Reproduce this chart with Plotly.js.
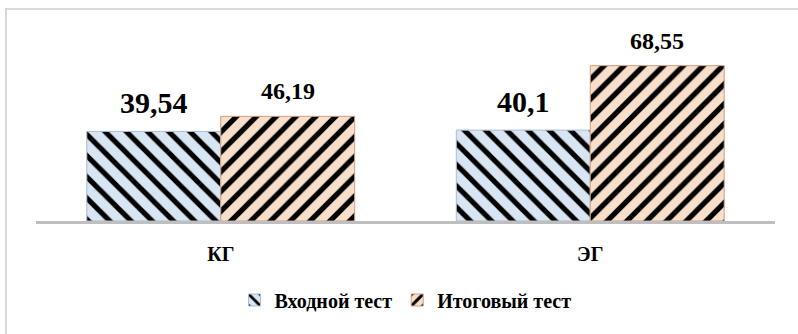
<!DOCTYPE html>
<html>
<head>
<meta charset="utf-8">
<script src="https://cdn.plot.ly/plotly-3.0.1.min.js"></script>
<style>
  html, body { margin: 0; padding: 0; background: #fff; }
  #wrap { position: relative; width: 798px; height: 334px; overflow: hidden; }
  #frame { position: absolute; left: 5px; top: 8px; width: 820px; height: 340px;
           border-left: 2px solid #d9d9d9; border-top: 2px solid #d9d9d9; pointer-events: none; }
  #chart { position: absolute; left: 0; top: 0; width: 798px; height: 334px; }
  #o { position: absolute; left: 10px; top: 10px; font: 10px monospace; white-space: pre-wrap; width: 780px; color: transparent; margin: 0; }
</style>
</head>
<body>
<div id="wrap">
  <div id="chart"></div>
  <div id="frame"></div>
  <pre id="o"></pre>
</div>
<script>
// ---- data ----
const categories = ['КГ', 'ЭГ'];
const seriesNames = ['Входной тест', 'Итоговый тест'];
const inputTest = [39.54, 40.1];
const finalTest = [46.19, 68.55];

// ---- styling ----
const W = 798, H = 334;
const margin = { l: 36, r: 23, t: 20, b: 113 };
const bargap = 0.275;
const serif = 'Liberation Serif';

const fmt = v => String(v).replace('.', ',');

const seriesValues = [inputTest, finalTest];
const styles = [
  { bg: '#d8e6f3', line: '#a9bdd3', shape: '\\', size: 15, sol: 0.35, label: 30 },
  { bg: '#f7dfcb', line: '#cf9f7f', shape: '/', size: 14, sol: 0.38, label: 24 }
];

const traces = seriesValues.map((vals, i) => ({
  type: 'bar',
  name: seriesNames[i],
  x: categories,
  y: vals,
  marker: {
    color: styles[i].bg,
    line: { color: styles[i].line, width: 1 },
    pattern: { shape: styles[i].shape, fgcolor: '#000000', fgopacity: 1, bgcolor: styles[i].bg,
               size: styles[i].size, solidity: styles[i].sol, fillmode: 'replace' }
  },
  hoverinfo: 'skip'
}));

const plotW = W - margin.l - margin.r;
const catW = plotW / categories.length;
const barW = catW * (1 - bargap) / seriesValues.length;

const annotations = [];
seriesValues.forEach((vals, i) => {
  vals.forEach((v, j) => {
    annotations.push({
      x: categories[j], y: v, xref: 'x', yref: 'y',
      text: '<b>' + fmt(v) + '</b>', showarrow: false,
      xanchor: 'center', yanchor: 'bottom',
      xshift: (i - (seriesValues.length - 1) / 2) * barW,
      yshift: 10,
      font: { family: serif, size: styles[i].label, color: '#000' }
    });
  });
});

const layout = {
  width: W, height: H,
  margin: margin,
  font: { family: serif },
  paper_bgcolor: 'rgba(0,0,0,0)',
  plot_bgcolor: 'rgba(0,0,0,0)',
  barmode: 'group',
  bargap: bargap,
  bargroupgap: 0,
  showlegend: true,
  legend: {
    orientation: 'h', x: 0.5, xanchor: 'center', y: -0.393, yanchor: 'middle',
    font: { family: serif, size: 20, color: '#000', weight: 'bold' },
    traceorder: 'normal'
  },
  xaxis: {
    type: 'category',
    showline: true, linecolor: '#bfbfbf', linewidth: 3,
    showgrid: false, zeroline: false, ticks: '',
    ticklabelstandoff: 13,
    tickfont: { family: serif, size: 20, color: '#000', weight: 'bold' },
    fixedrange: true
  },
  yaxis: {
    visible: false, range: [0, 88.7], showgrid: false, zeroline: false, fixedrange: true
  },
  annotations: annotations
};

Plotly.newPlot('chart', traces, layout, { staticPlot: true, displayModeBar: false }).then(() => {
  const x = document.querySelector('.xtick text');
  document.getElementById('o').textContent = ' ' + getComputedStyle(x).fontFamily.replace(/./g, ' ');
});
</script>
</body>
</html>
